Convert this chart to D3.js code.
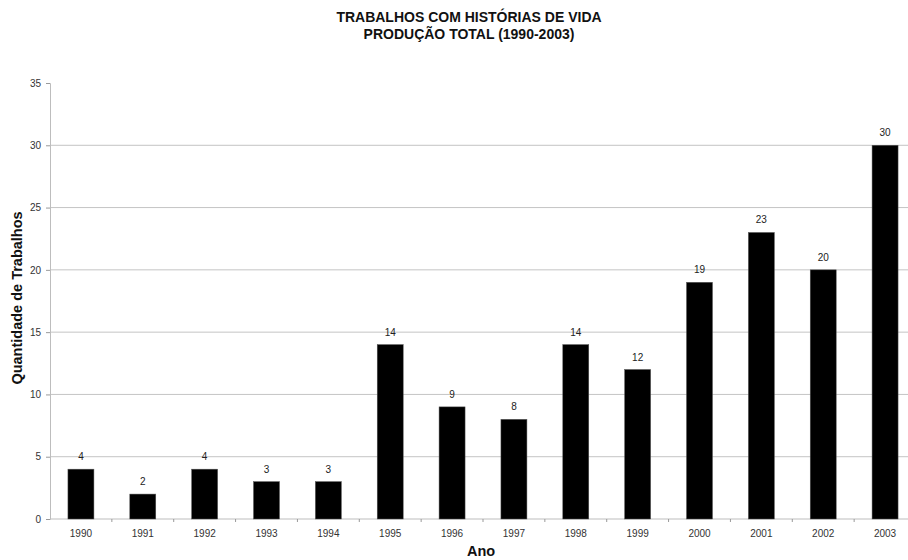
<!DOCTYPE html>
<html>
<head>
<meta charset="utf-8">
<script src="https://cdn.jsdelivr.net/npm/d3@7"></script>
<style>
  body { margin: 0; background: #fff; }
  svg { display: block; font-family: Arial, "Liberation Sans", sans-serif; }
</style>
</head>
<body>
<div id="chart"></div>
<script>
// data
const anos = ["1990", "1991", "1992", "1993", "1994", "1995", "1996",
              "1997", "1998", "1999", "2000", "2001", "2002", "2003"];
const trabalhos = [4, 2, 4, 3, 3, 14, 9, 8, 14, 12, 19, 23, 20, 30];
const yTicks = [0, 5, 10, 15, 20, 25, 30, 35];

const width = 908, height = 560;
// plot runs past the right edge, as in the reference (it's cropped there)
const margin = {left: 50, top: 83, bottom: 41};
const plotRight = 916;

const svg = d3.select("#chart").append("svg")
    .attr("width", width).attr("height", height);

const x = d3.scaleBand()
    .domain(anos)
    .range([margin.left, plotRight])
    .paddingInner(0.58)
    .paddingOuter(0.29);

const y = d3.scaleLinear()
    .domain([0, 35])
    .range([height - margin.bottom, margin.top]);

// gridlines
svg.append("g")
    .selectAll("line")
    .data(yTicks.filter(d => d > 0 && d < 35))
    .enter().append("line")
    .attr("x1", margin.left).attr("x2", plotRight)
    .attr("y1", d => y(d)).attr("y2", d => y(d))
    .attr("stroke", "#c4c4c4").attr("stroke-width", 1);

// y axis
const yAxis = svg.append("g")
    .attr("transform", "translate(" + margin.left + ",0)")
    .call(d3.axisLeft(y).tickValues(yTicks).tickSize(4).tickPadding(5));
yAxis.select(".domain").attr("stroke", "#bdbdbd");
yAxis.selectAll(".tick line").attr("stroke", "#9a9a9a");
yAxis.selectAll("text").attr("fill", "#333").style("font-size", "10px");

// x axis, ticks sit between categories
const xAxisG = svg.append("g");
xAxisG.append("line")
    .attr("x1", margin.left).attr("x2", plotRight)
    .attr("y1", y(0)).attr("y2", y(0))
    .attr("stroke", "#bdbdbd");
const step = x.step();
xAxisG.selectAll("line.tk")
    .data(anos.slice(1))
    .enter().append("line")
    .attr("class", "tk")
    .attr("x1", d => x(d) - x.paddingInner() * step / 2)
    .attr("x2", d => x(d) - x.paddingInner() * step / 2)
    .attr("y1", y(0)).attr("y2", y(0) + 3)
    .attr("stroke", "#9a9a9a");
xAxisG.selectAll("text")
    .data(anos)
    .enter().append("text")
    .attr("x", d => x(d) + x.bandwidth() / 2)
    .attr("y", y(0) + 18)
    .attr("text-anchor", "middle")
    .attr("fill", "#333")
    .style("font-size", "10px")
    .text(d => d);

// bars
svg.append("g")
    .selectAll("rect")
    .data(trabalhos)
    .enter().append("rect")
    .attr("x", (d, i) => x(anos[i]))
    .attr("y", d => y(d))
    .attr("width", x.bandwidth())
    .attr("height", d => y(0) - y(d))
    .attr("fill", "#000")
    .attr("stroke", "#555").attr("stroke-width", 0.5);

// value labels
svg.append("g")
    .selectAll("text")
    .data(trabalhos)
    .enter().append("text")
    .attr("x", (d, i) => x(anos[i]) + x.bandwidth() / 2)
    .attr("y", d => y(d) - 9)
    .attr("text-anchor", "middle")
    .attr("fill", "#222")
    .style("font-size", "10px")
    .text(d => d);

// titles
const title = svg.append("text")
    .attr("x", 469).attr("text-anchor", "middle")
    .style("font-size", "14px").style("font-weight", "bold")
    .attr("fill", "#111");
title.append("tspan").attr("x", 469).attr("y", 22).text("TRABALHOS COM HISTÓRIAS DE VIDA");
title.append("tspan").attr("x", 469).attr("y", 39).text("PRODUÇÃO TOTAL (1990-2003)");

svg.append("text")
    .attr("transform", "translate(22,298) rotate(-90)")
    .attr("text-anchor", "middle")
    .style("font-size", "14.5px").style("font-weight", "bold")
    .attr("fill", "#111")
    .text("Quantidade de Trabalhos");

svg.append("text")
    .attr("x", 481).attr("y", 556)
    .attr("text-anchor", "middle")
    .style("font-size", "14.5px").style("font-weight", "bold")
    .attr("fill", "#111")
    .text("Ano");
</script>
</body>
</html>
